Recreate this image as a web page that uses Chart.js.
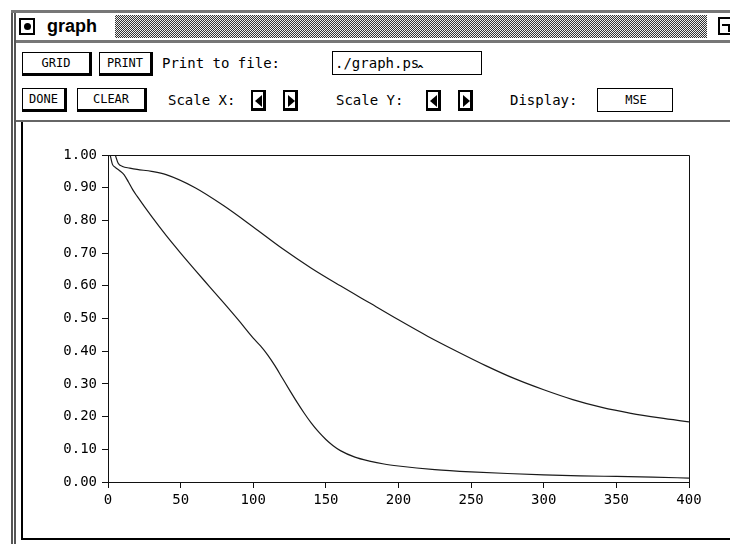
<!DOCTYPE html>
<html>
<head>
<meta charset="utf-8">
<title>graph</title>
<script src="https://cdn.jsdelivr.net/npm/chart.js@4.4.1/dist/chart.umd.min.js"></script>
<style>
  html, body { margin: 0; padding: 0; background: #fff; }
  body { width: 730px; height: 544px; position: relative; overflow: hidden;
         font-family: "DejaVu Sans Mono", monospace; color: #000; }
  .abs { position: absolute; box-sizing: border-box; }
  .frame-left { left: 11px; top: 10px; width: 5px; height: 540px; border-left: 5px double #555; }
  .frame-top { left: 11px; top: 10px; width: 719px; height: 3px; background: #777; }
  .title-under { left: 16px; top: 40px; width: 714px; height: 3px; background: #777; }
  .title-icon { left: 19px; top: 18px; width: 16px; height: 17px; border: 2px solid #000; }
  .title-icon::after { content: ""; position: absolute; left: 3px; top: 3px; width: 7px; height: 7px;
                       border-radius: 50%; background: #000; }
  .title-text { left: 47px; top: 12px; font: bold 18px "Liberation Sans", Arial, sans-serif; line-height: 28px; }
  .stipple { left: 115px; top: 15px; width: 592px; height: 23px;
             background: repeating-conic-gradient(#333 0 25%, #eee 0 50%) 0 0 / 2px 2px; }
  .corner { left: 718px; top: 17px; width: 12px; height: 18px; border: 2px solid #000; border-right: none; }
  .corner::after { content: ""; position: absolute; left: 2px; top: 5px; width: 6px; height: 6px;
                   border-top: 2px solid #000; border-right: 2px solid #000; }
  .btn { border: 1px solid #000; border-right-width: 3px; border-bottom-width: 3px; background: #fff;
         font-size: 12px; text-align: center; }
  .lbl { font-size: 14px; line-height: 24px; white-space: pre; }
  .field { border: 1px solid #000; font-size: 14px; line-height: 22px; padding-left: 2px; white-space: pre; }
  .arrow { width: 15px; height: 21px; border: 2px solid #000; border-right-width: 3px; border-bottom-width: 3px; }
  .arrow.l::after, .arrow.r::after { content: ""; position: absolute; top: 3px; width: 0; height: 0;
                   border-top: 6px solid transparent; border-bottom: 6px solid transparent; }
  .arrow.l::after { left: 2px; border-right: 7px solid #000; }
  .arrow.r::after { left: 3px; border-left: 7px solid #000; }
  .sep { left: 16px; top: 120px; width: 714px; height: 2px; background: #666; }
  .panel { left: 21px; top: 122px; width: 720px; height: 418px; border-left: 2px solid #000; border-bottom: 2px solid #000; }
  #graph { position: absolute; left: 23px; top: 124px; }
</style>
</head>
<body>
<div class="abs frame-left"></div>
<div class="abs frame-top"></div>
<div class="abs title-icon"></div>
<div class="abs title-text">graph</div>
<div class="abs stipple"></div>
<div class="abs corner"></div>
<div class="abs title-under"></div>

<div class="abs btn" style="left:22px;top:52px;width:70px;height:24px;line-height:20px;">GRID</div>
<div class="abs btn" style="left:99px;top:52px;width:54px;height:24px;line-height:20px;">PRINT</div>
<div class="abs lbl" style="left:162px;top:51px;">Print to file:</div>
<div class="abs field" style="left:332px;top:51px;width:150px;height:24px;">./graph.ps</div>
<div class="abs" style="left:417px;top:63px;font:bold 11px 'DejaVu Sans Mono';">^</div>

<div class="abs btn" style="left:22px;top:88px;width:45px;height:24px;line-height:20px;">DONE</div>
<div class="abs btn" style="left:77px;top:88px;width:70px;height:24px;line-height:20px;">CLEAR</div>
<div class="abs lbl" style="left:168px;top:88px;">Scale X:</div>
<div class="abs arrow l" style="left:251px;top:90px;"></div>
<div class="abs arrow r" style="left:283px;top:90px;"></div>
<div class="abs lbl" style="left:336px;top:88px;">Scale Y:</div>
<div class="abs arrow l" style="left:426px;top:90px;"></div>
<div class="abs arrow r" style="left:458px;top:90px;"></div>
<div class="abs lbl" style="left:510px;top:88px;">Display:</div>
<div class="abs field" style="left:597px;top:88px;width:76px;height:24px;text-align:center;font-size:12px;">MSE</div>

<div class="abs sep"></div>
<div class="abs panel"></div>
<canvas id="graph" width="707" height="414"></canvas>

<script>
// MSE error curves (epochs on x, error on y)
const fastEpochs = [0, 1.5, 3, 5, 8, 11, 14, 17, 20, 30, 40, 50, 60, 70, 80, 90, 100, 105, 110,
  115, 120, 125, 130, 135, 140, 145, 150, 155, 160, 170, 180, 190, 200, 225, 250, 275, 300, 325, 350, 375, 400];
const fastMse = [1.03, 1.0, 0.972, 0.962, 0.952, 0.940, 0.918, 0.894, 0.874, 0.812, 0.754, 0.700, 0.648,
  0.597, 0.546, 0.494, 0.440, 0.416, 0.388, 0.355, 0.318, 0.281, 0.245, 0.211, 0.180, 0.153, 0.130, 0.111,
  0.096, 0.076, 0.064, 0.055, 0.049, 0.038, 0.031, 0.026, 0.022, 0.019, 0.017, 0.015, 0.012];

const slowEpochs = [0, 5, 7, 10, 15, 20, 30, 40, 60, 80, 100, 120, 140, 160, 180, 200, 220, 240, 260,
  280, 300, 320, 340, 360, 380, 400];
const slowMse = [1.06, 1.0, 0.975, 0.965, 0.96, 0.956, 0.95, 0.94, 0.90, 0.844, 0.780, 0.714, 0.654, 0.600,
  0.548, 0.496, 0.446, 0.400, 0.356, 0.316, 0.282, 0.252, 0.228, 0.210, 0.196, 0.184];

const xTicks = [0, 50, 100, 150, 200, 250, 300, 350, 400];
const yTicks = [0, 0.1, 0.2, 0.3, 0.4, 0.5, 0.6, 0.7, 0.8, 0.9, 1.0];

const toPoints = (xs, ys) => xs.map((x, i) => ({ x, y: ys[i] }));

const tickFont = { family: "'DejaVu Sans Mono', monospace", size: 14 };
const axisGrid = { drawOnChartArea: false, drawTicks: true, tickLength: 6, color: "#111", lineWidth: 1 };

// top and right edges of the plot box (the axes only give left and bottom)
const plotFrame = {
  id: "plotFrame",
  afterDatasetsDraw(chart) {
    const { ctx, chartArea: a } = chart;
    const l = Math.round(a.left) + 0.5, r = Math.round(a.right) + 0.5;
    const t = Math.round(a.top) + 0.5, b = Math.round(a.bottom) + 0.5;
    ctx.save();
    ctx.strokeStyle = "#111";
    ctx.lineWidth = 1;
    ctx.beginPath();
    ctx.moveTo(l, t);
    ctx.lineTo(r, t);
    ctx.lineTo(r, b);
    ctx.stroke();
    ctx.restore();
  },
};

const lineStyle = { borderColor: "#1a1a1a", borderWidth: 1.2, pointRadius: 0, fill: false,
  cubicInterpolationMode: "monotone" };

new Chart(document.getElementById("graph"), {
  type: "line",
  data: {
    datasets: [
      { label: "slow", data: toPoints(slowEpochs, slowMse), ...lineStyle },
      { label: "fast", data: toPoints(fastEpochs, fastMse), ...lineStyle },
    ],
  },
  options: {
    responsive: false,
    animation: false,
    devicePixelRatio: 1,
    layout: { padding: { top: 31, right: 41, bottom: 0, left: 0 } },
    plugins: { legend: { display: false }, tooltip: { enabled: false }, title: { display: false } },
    scales: {
      x: {
        type: "linear",
        min: xTicks[0],
        max: xTicks[xTicks.length - 1],
        afterFit: (s) => { s.height = 56; },
        afterBuildTicks: (s) => { s.ticks = xTicks.map((v) => ({ value: v })); },
        ticks: { autoSkip: false, maxRotation: 0, padding: 4, color: "#000", font: tickFont,
          callback: (v) => String(v) },
        grid: axisGrid,
        border: { display: true, color: "#111", width: 1 },
      },
      y: {
        min: yTicks[0],
        max: yTicks[yTicks.length - 1],
        afterFit: (s) => { s.width = 85; },
        afterBuildTicks: (s) => { s.ticks = yTicks.map((v) => ({ value: v })); },
        ticks: { autoSkip: false, padding: 5, color: "#000", font: tickFont,
          callback: (v) => Number(v).toFixed(2) },
        grid: axisGrid,
        border: { display: true, color: "#111", width: 1 },
      },
    },
  },
  plugins: [plotFrame],
});
</script>
</body>
</html>
